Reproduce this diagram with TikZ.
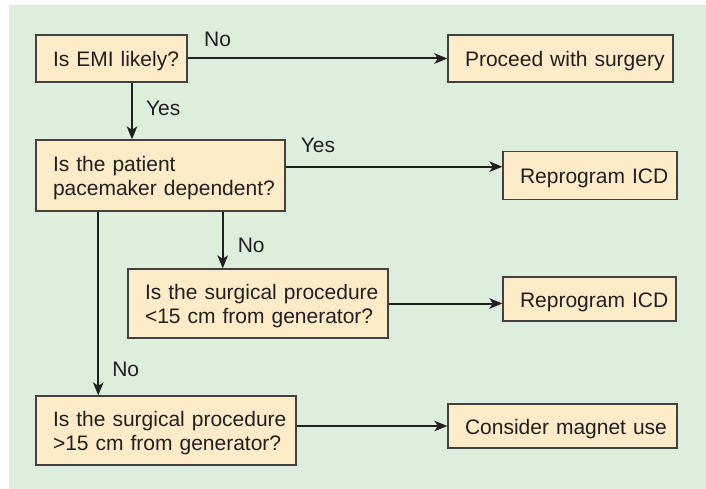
\documentclass[tikz,border=0pt]{standalone}
\usepackage{fontspec}
\setmainfont{Liberation Sans}
\usepackage{xcolor}
\usetikzlibrary{arrows.meta}
\definecolor{bggreen}{HTML}{DDEEDC}
\definecolor{boxfill}{HTML}{FEEBC8}
\definecolor{inkgray}{HTML}{231F20}
\tikzset{
  qbox/.style={draw=inkgray!85, line width=1.3pt, fill=boxfill, inner xsep=0pt, inner ysep=0pt,
    align=left, text=inkgray, font=\fontsize{21pt}{24pt}\selectfont,
    execute at begin node={\leftskip=17pt\rule{0pt}{20.5pt}}},
  arr/.style={draw=inkgray, line width=2pt, -{Stealth[length=13pt,width=10.5pt,inset=3.5pt]}},
  lbl/.style={inner sep=1pt, text=inkgray, font=\fontsize{21pt}{24pt}\selectfont}
}

\begin{document}
\begin{tikzpicture}[x=1pt,y=-1pt]
\useasboundingbox (0,0) rectangle (706,489);
\fill[bggreen] (9,5) rectangle (706,489);
\node[qbox, text width=151, minimum height=47] (emi) at (111.5,58.5) {Is EMI likely?};
\node[qbox, text width=225, minimum height=47] (proceed) at (560.5,58.5) {Proceed with surgery};
\node[qbox, text width=249, minimum height=71] (pace) at (160.5,175.5) {Is the patient\\pacemaker dependent?};
\node[qbox, text width=174, minimum height=48] (rep1) at (590,175.3) {Reprogram ICD};
\node[qbox, text width=260, minimum height=69] (near) at (258,303.5) {Is the surgical procedure\\<15 cm from generator?};
\node[qbox, text width=173, minimum height=44] (rep2) at (589.5,299) {Reprogram ICD};
\node[qbox, text width=260, minimum height=69] (far) at (166,430.5) {Is the surgical procedure\\>15 cm from generator?};
\node[qbox, text width=229, minimum height=44] (magnet) at (562.5,426) {Consider magnet use};
\draw[arr] (emi.east) -- node[lbl, pos=.115, above=10pt] (no1) {No} (proceed.west);
\draw[arr] ([xshift=20.5]emi.south) -- node[lbl, pos=.45, right=12pt] (yes1) {Yes} ([xshift=20.5]emi.south |- pace.north);
\draw[arr] ([yshift=8.8]pace.east) -- node[lbl, pos=.149, above=11.5pt] (yes2) {Yes} ([yshift=8.8]pace.east -| rep1.west);
\draw[arr] ([xshift=62.25]pace.south) -- node[lbl, pos=.595, right=13pt] (no2) {No} ([xshift=62.25]pace.south |- near.north);
\draw[arr] ([xshift=-62.25]pace.south) -- node[lbl, pos=.857, right=12pt] (no3) {No} ([xshift=-62.25]pace.south |- far.north);
\draw[arr] (near.east) -- (near.east -| rep2.west);
\draw[arr] (far.east |- magnet.west) -- (magnet.west);
\end{tikzpicture}
\end{document}
